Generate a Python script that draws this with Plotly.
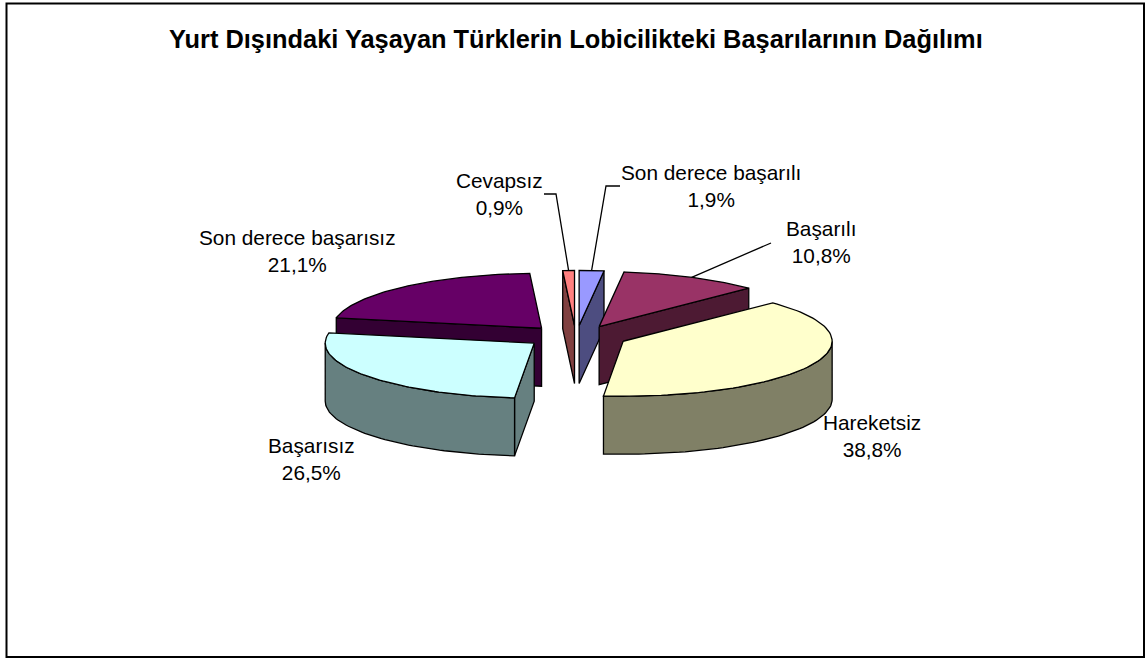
import math
import numpy as np
import plotly.graph_objects as go

title = "Yurt Dışındaki Yaşayan Türklerin Lobicilikteki Başarılarının Dağılımı"
categories = ["Son derece başarılı", "Başarılı", "Hareketsiz", "Başarısız", "Son derece başarısız", "Cevapsız"]
values = [1.9, 10.8, 38.8, 26.5, 21.1, 0.9]
top_colors = ["#9999FF", "#993366", "#FFFFCC", "#CCFFFF", "#660066", "#FF8080"]
side_colors = ["#4D4D80", "#4D1A33", "#808066", "#668080", "#330033", "#804040"]
# paint order, back to front
paint_order = [5, 0, 1, 4, 3, 2]

# pie projection
CX, CY, RX, RY, DEPTH, EXPLODE_X, EXPLODE_Y = 576, 336.5, 209, 55, 58, 0.25, 0.2
# label centres (two lines) and leader elbows
label_pos = [(711, 186), (821, 242), (872, 436), (311, 459), (297, 251), (499, 194)]
elbows = [[(620, 186), (606, 186)], [(771, 243)], None, None, None, [(544, 194), (556, 194)]]


def rim(theta, ox, oy, dz=0):
    return ox + RX * np.sin(theta), oy - RY * np.cos(theta) + dz


fig = go.Figure()


def poly(xs, ys, fill):
    fig.add_trace(go.Scatter(x=list(xs), y=list(ys), mode="lines", fill="toself", fillcolor=fill,
                             line=dict(color="black", width=1.3), hoverinfo="skip", showlegend=False))


total = sum(values)
cum = np.cumsum([0] + values) / total * 2 * math.pi
anchors = {}
for i in paint_order:
    a0, a1 = cum[i], cum[i + 1]
    mid = (a0 + a1) / 2
    ox = CX + EXPLODE_X * RX * math.sin(mid)
    oy = CY - EXPLODE_Y * RY * math.cos(mid)
    anchors[i] = rim(mid, ox, oy)

    # radial walls facing the viewer
    for a, visible in ((a0, math.sin(a0) < 0), (a1, math.sin(a1) > 1e-9)):
        if visible:
            rx_, ry_ = rim(a, ox, oy)
            poly([ox, rx_, rx_, ox, ox], [oy, ry_, ry_ + DEPTH, oy + DEPTH, oy], side_colors[i])

    # curved wall facing the viewer
    lo, hi = max(a0, math.pi / 2), min(a1, 3 * math.pi / 2)
    if hi > lo:
        t = np.linspace(lo, hi, 60)
        xu, yu = rim(t, ox, oy)
        poly(np.r_[xu, xu[::-1], xu[0]], np.r_[yu, yu[::-1] + DEPTH, yu[0]], side_colors[i])

    # top face
    t = np.linspace(a0, a1, 80)
    xu, yu = rim(t, ox, oy)
    poly(np.r_[ox, xu, ox], np.r_[oy, yu, oy], top_colors[i])

# leader lines
for i, elbow in enumerate(elbows):
    if elbow:
        pts = [anchors[i]] + elbow[::-1]
        fig.add_trace(go.Scatter(x=[p[0] for p in pts], y=[p[1] for p in pts], mode="lines",
                                 line=dict(color="black", width=1.3), hoverinfo="skip", showlegend=False))

font = "Liberation Sans, Arial, sans-serif"
annotations = [dict(x=575.5, y=39, text="<b>%s</b>" % title, showarrow=False, xanchor="center", yanchor="middle",
                    font=dict(family=font, size=25.4, color="black"))]
for name, v, (lx, ly) in zip(categories, values, label_pos):
    annotations.append(dict(x=lx, y=ly, text="%s<br>%s%%" % (name, ("%.1f" % v).replace(".", ",")),
                            showarrow=False, xanchor="center", yanchor="middle", align="center",
                            font=dict(family=font, size=20.8, color="black")))

fig.update_layout(
    width=1147, height=660, margin=dict(l=0, r=0, t=0, b=0), autosize=False,
    paper_bgcolor="white", plot_bgcolor="white", showlegend=False,
    xaxis=dict(range=[0, 1147], visible=False, fixedrange=True),
    yaxis=dict(range=[660, 0], visible=False, fixedrange=True),
    annotations=annotations,
    shapes=[dict(type="rect", x0=6.5, y0=3.5, x1=1144, y1=657, line=dict(color="black", width=2), layer="below")],
)
fig.write_html("out.html", config=dict(displayModeBar=False),
               post_script="document.body.style.margin='0';document.documentElement.style.overflow='hidden';")
